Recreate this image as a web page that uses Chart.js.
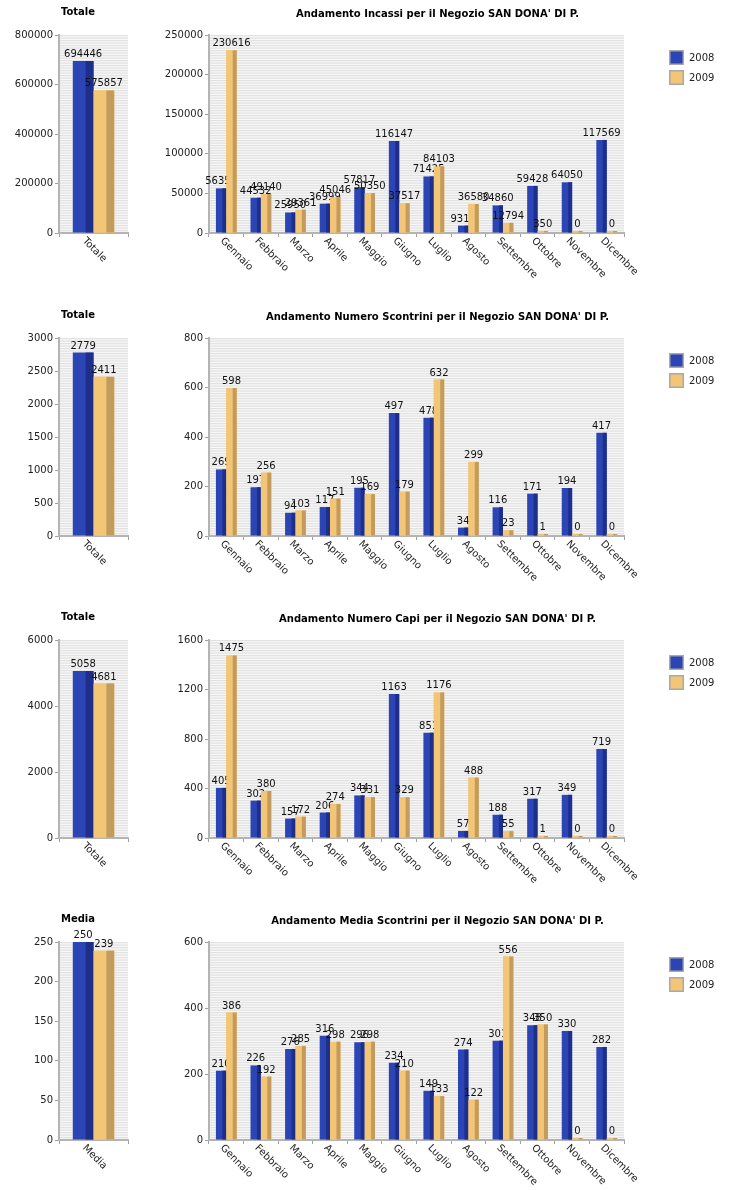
<!DOCTYPE html>
<html>
<head>
<meta charset="utf-8">
<title>Andamento Negozio SAN DONA' DI P.</title>
<script src="https://cdn.jsdelivr.net/npm/chart.js@4.4.1/dist/chart.umd.min.js"></script>
<style>
  body { margin: 0; background: #fff; width: 747px; height: 1190px; overflow: hidden; position: relative; }
  canvas { position: absolute; }
</style>
</head>
<body>
<script>
// Dati
const mesi = ["Gennaio", "Febbraio", "Marzo", "Aprile", "Maggio", "Giugno",
    "Luglio", "Agosto", "Settembre", "Ottobre", "Novembre", "Dicembre"];
const anni = ["2008", "2009"];

const incassi2008 = [56354, 44532, 25950, 36999, 57817, 116147, 71425, 9315, 34860, 59428, 64050, 117569];
const incassi2009 = [230616, 49140, 29361, 45046, 50350, 37517, 84103, 36580, 12794, 350, 0, 0];
const incassiTot = [694446, 575857];

const scontrini2008 = [269, 197, 94, 117, 195, 497, 478, 34, 116, 171, 194, 417];
const scontrini2009 = [598, 256, 103, 151, 169, 179, 632, 299, 23, 1, 0, 0];
const scontriniTot = [2779, 2411];

const capi2008 = [405, 302, 157, 206, 344, 1163, 851, 57, 188, 317, 349, 719];
const capi2009 = [1475, 380, 172, 274, 331, 329, 1176, 488, 55, 1, 0, 0];
const capiTot = [5058, 4681];

const media2008 = [210, 226, 276, 316, 296, 234, 149, 274, 301, 348, 330, 282];
const media2009 = [386, 192, 285, 298, 298, 210, 133, 122, 556, 350, 0, 0];
const mediaTot = [250, 239];

const titoliTot = ["Totale", "Totale", "Totale", "Media"];
const titoliMese = [
    "Andamento Incassi per il Negozio SAN DONA' DI P.",
    "Andamento Numero Scontrini per il Negozio SAN DONA' DI P.",
    "Andamento Numero Capi per il Negozio SAN DONA' DI P.",
    "Andamento Media Scontrini per il Negozio SAN DONA' DI P."
];
const totMax = [800000, 3000, 6000, 250];
const totStep = [200000, 500, 2000, 50];
const meseMax = [250000, 800, 1600, 600];
const meseStep = [50000, 200, 400, 200];

const colori = ["#2b45b4", "#f2c577"];
const coloriScuri = ["#1d2f8a", "#c39b5c"];
const FONT = "'DejaVu Sans', sans-serif";

Chart.defaults.font.family = FONT;
Chart.defaults.color = "#222";

// Sfondo a righe dell'area del grafico
const sfondo = {
    id: "sfondo",
    beforeDraw(chart) {
        const ctx = chart.ctx;
        const a = chart.chartArea;
        ctx.save();
        ctx.fillStyle = "#f7f7f7";
        ctx.fillRect(a.left, a.top, a.right - a.left, a.bottom - a.top);
        ctx.fillStyle = "#e2e2e2";
        for (let y = a.top; y < a.bottom; y += 2.5) {
            ctx.fillRect(a.left, y, a.right - a.left, 1.2);
        }
        ctx.restore();
    }
};

// Lato scuro "3D" delle barre ed etichette dei valori
const barre = {
    id: "barre",
    afterDatasetsDraw(chart) {
        const ctx = chart.ctx;
        chart.data.datasets.forEach((ds, di) => {
            const meta = chart.getDatasetMeta(di);
            meta.data.forEach((bar) => {
                if (di > 0) {
                    // ridisegna sopra le etichette della serie precedente
                    bar.draw(ctx);
                }
                const p = bar.getProps(["x", "y", "base", "width"], true);
                const w = p.width * 0.38;
                ctx.save();
                ctx.fillStyle = coloriScuri[di];
                ctx.fillRect(p.x + p.width / 2 - w, p.y, w, p.base - p.y);
                ctx.restore();
            });
            ctx.save();
            ctx.font = "10px " + FONT;
            ctx.fillStyle = "#111";
            ctx.textAlign = "center";
            ctx.textBaseline = "alphabetic";
            meta.data.forEach((bar, i) => {
                ctx.fillText(String(ds.data[i]), bar.x, bar.y - 4);
            });
            ctx.restore();
        });
    }
};

// Etichette delle categorie ruotate di 45 gradi verso il basso
const etichetteX = {
    id: "etichetteX",
    afterDraw(chart, args, opts) {
        const scale = chart.scales.x;
        const ctx = chart.ctx;
        ctx.save();
        ctx.font = "10px " + FONT;
        ctx.fillStyle = "#222";
        ctx.textAlign = "left";
        ctx.textBaseline = "top";
        chart.data.labels.forEach((lab, i) => {
            ctx.save();
            ctx.translate(scale.getPixelForTick(i) + opts.dx, scale.top + 3);
            ctx.rotate(Math.PI / 4);
            ctx.fillText(lab, 0, 0);
            ctx.restore();
        });
        ctx.restore();
    }
};

// Legenda a destra
const legenda = {
    id: "legenda",
    afterDraw(chart) {
        const ctx = chart.ctx;
        const a = chart.chartArea;
        ctx.save();
        chart.data.datasets.forEach((ds, i) => {
            const x = a.right + 45;
            const y = a.top + 15 + i * 20;
            ctx.fillStyle = ds.backgroundColor;
            ctx.fillRect(x, y, 15, 15);
            ctx.strokeStyle = "#a9a9a9";
            ctx.lineWidth = 1.5;
            ctx.strokeRect(x + 0.75, y + 0.75, 13.5, 13.5);
            ctx.fillStyle = "#222";
            ctx.font = "10px " + FONT;
            ctx.textBaseline = "middle";
            ctx.fillText(ds.label, x + 20, y + 8);
        });
        ctx.restore();
    }
};

function creaCanvas(left, top, width, height) {
    const c = document.createElement("canvas");
    c.width = width;
    c.height = height;
    c.style.left = left + "px";
    c.style.top = top + "px";
    c.style.width = width + "px";
    c.style.height = height + "px";
    document.body.appendChild(c);
    return c;
}

function grafico(canvas, etichette, serie, titolo, max, step, opz) {
    return new Chart(canvas.getContext("2d"), {
        type: "bar",
        data: {
            labels: etichette,
            datasets: serie.map((d, i) => ({
                label: anni[i],
                data: d,
                backgroundColor: colori[i],
                borderWidth: 0,
                minBarLength: 2,
                categoryPercentage: 0.6,
                barPercentage: 1.0
            }))
        },
        options: {
            responsive: false,
            animation: false,
            layout: { padding: 0 },
            scales: {
                x: {
                    ticks: { display: false },
                    grid: { drawOnChartArea: false, drawTicks: true, tickLength: 4, color: "#a0a0a0", offset: true },
                    border: { color: "#b4b4b4", width: 2 },
                    afterFit: (s) => { s.height = canvas.height - 35 - 198; }
                },
                y: {
                    min: 0,
                    max: max,
                    ticks: {
                        stepSize: step,
                        padding: 2,
                        font: { size: 10 },
                        color: "#222",
                        callback: (v) => String(v)
                    },
                    grid: { drawOnChartArea: false, drawTicks: true, tickLength: 4, color: "#a0a0a0" },
                    border: { color: "#b4b4b4", width: 2 },
                    afterFit: (s) => { s.width = 59; }
                },
                // asse vuoto a destra: riserva lo spazio della legenda
                spazio: {
                    type: "linear",
                    position: "right",
                    ticks: { display: false },
                    grid: { display: false, drawTicks: false },
                    border: { display: false },
                    afterFit: (s) => { s.width = opz.destra; }
                }
            },
            plugins: {
                legend: { display: false },
                tooltip: { enabled: false },
                title: {
                    display: true,
                    text: titolo,
                    color: "#000",
                    font: { size: 10, weight: "bold" },
                    padding: { top: opz.titoloTop, bottom: 35 - opz.titoloTop - 12 }
                },
                etichetteX: { dx: opz.dx }
            }
        },
        plugins: opz.legenda ? [sfondo, barre, etichetteX, legenda] : [sfondo, barre, etichetteX]
    });
}

const righe = [
    { tot: incassiTot, a: incassi2008, b: incassi2009 },
    { tot: scontriniTot, a: scontrini2008, b: scontrini2009 },
    { tot: capiTot, a: capi2008, b: capi2009 },
    { tot: mediaTot, a: media2008, b: media2009 }
];
const topRighe = [0, 303, 605, 907];

righe.forEach((r, k) => {
    const top = topRighe[k];
    const cTot = creaCanvas(0, top, 156, 302);
    grafico(cTot, [titoliTot[k]], [[r.tot[0]], [r.tot[1]]], titoliTot[k],
        totMax[k], totStep[k], { destra: 28, titoloTop: 6, dx: -6, legenda: false });
    const cMese = creaCanvas(150, top, 575, 302);
    grafico(cMese, mesi, [r.a, r.b], titoliMese[k],
        meseMax[k], meseStep[k], { destra: 101, titoloTop: 8, dx: -1, legenda: true });
});
</script>
</body>
</html>
